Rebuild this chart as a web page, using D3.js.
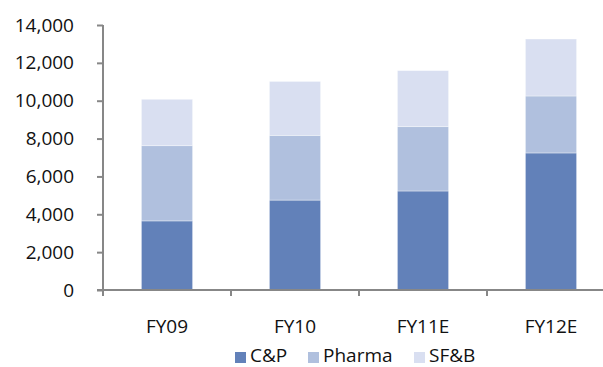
<!DOCTYPE html>
<html>
<head>
<meta charset="utf-8">
<script src="https://cdn.jsdelivr.net/npm/d3@7"></script>
<style>
  html, body { margin: 0; padding: 0; background: #fff; }
  svg { display: block; font-family: "Open Sans", sans-serif; }
</style>
</head>
<body>
<svg id="chart" width="603" height="367"></svg>
<script>
// Revenue by segment, stacked per fiscal year
const categories = ["FY09", "FY10", "FY11E", "FY12E"];
const seriesNames = ["C&P", "Pharma", "SF&B"];
const cpValues = [3650, 4750, 5230, 7240];
const pharmaValues = [3975, 3420, 3400, 3010];
const sfbValues = [2450, 2850, 2960, 3010];
const yTicks = [0, 2000, 4000, 6000, 8000, 10000, 12000, 14000];
const colors = ["#6281b9", "#b0c0de", "#d9dff1"];

const rows = categories.map((c, i) => ({
  cat: c,
  "C&P": cpValues[i],
  "Pharma": pharmaValues[i],
  "SF&B": sfbValues[i]
}));

const svg = d3.select("#chart");
const plotLeft = 103, plotTop = 25, plotBottom = 290;

const x = d3.scaleBand()
  .domain(categories)
  .range([plotLeft, plotLeft + 512])
  .paddingInner(0.6)
  .paddingOuter(0.3);

const y = d3.scaleLinear().domain([0, 14000]).range([plotBottom, plotTop]);

const stack = d3.stack().keys(seriesNames);
const layers = stack(rows);

svg.append("g")
  .selectAll("g")
  .data(layers)
  .join("g")
  .attr("fill", (d, i) => colors[i])
  .selectAll("rect")
  .data(d => d)
  .join("rect")
  .attr("x", d => x(d.data.cat))
  .attr("width", x.bandwidth())
  .attr("y", d => y(d[1]))
  .attr("height", d => y(d[0]) - y(d[1]))
  .attr("stroke", "rgba(255,255,255,0.45)")
  .attr("stroke-width", 0.8);

const axisColor = "#878787";
const fmt = d3.format(",");

// Y axis
const yAxis = svg.append("g")
  .attr("transform", `translate(${plotLeft},0)`)
  .call(d3.axisLeft(y).tickValues(yTicks).tickFormat(fmt).tickSize(6).tickPadding(23));
yAxis.select(".domain").attr("stroke", axisColor).attr("stroke-width", 2)
  .attr("d", `M0,${plotTop}V${plotBottom}`);
yAxis.selectAll(".tick line").attr("stroke", axisColor).attr("stroke-width", 2);
yAxis.selectAll(".tick text")
  .attr("fill", "#111")
  .style("font-size", "19px")
  .style("font-family", "'Open Sans', sans-serif");

// X axis with boundary ticks between categories
const step = x.step();
const xStart = x(categories[0]) - (x.paddingOuter() * step);
const boundaries = d3.range(categories.length + 1).map(i => xStart + i * step);
const xg = svg.append("g");
xg.append("line")
  .attr("x1", plotLeft - 6).attr("x2", 603)
  .attr("y1", plotBottom).attr("y2", plotBottom)
  .attr("stroke", axisColor).attr("stroke-width", 2);
xg.selectAll("line.tk")
  .data(boundaries)
  .join("line")
  .attr("class", "tk")
  .attr("x1", d => d).attr("x2", d => d)
  .attr("y1", plotBottom).attr("y2", plotBottom + 6)
  .attr("stroke", axisColor).attr("stroke-width", 2);
xg.selectAll("text")
  .data(categories)
  .join("text")
  .attr("x", d => x(d) + x.bandwidth() / 2)
  .attr("y", 333)
  .attr("text-anchor", "middle")
  .attr("fill", "#111")
  .style("font-size", "19px")
  .text(d => d);

// Legend
const legendX = [235, 308, 414];
const lg = svg.append("g");
seriesNames.forEach((name, i) => {
  lg.append("rect")
    .attr("x", legendX[i]).attr("y", 352)
    .attr("width", 11).attr("height", 11)
    .attr("fill", colors[i]);
  lg.append("text")
    .attr("x", legendX[i] + 15).attr("y", 362)
    .attr("fill", "#111")
    .style("font-size", "19px")
    .text(name);
});
</script>
</body>
</html>
